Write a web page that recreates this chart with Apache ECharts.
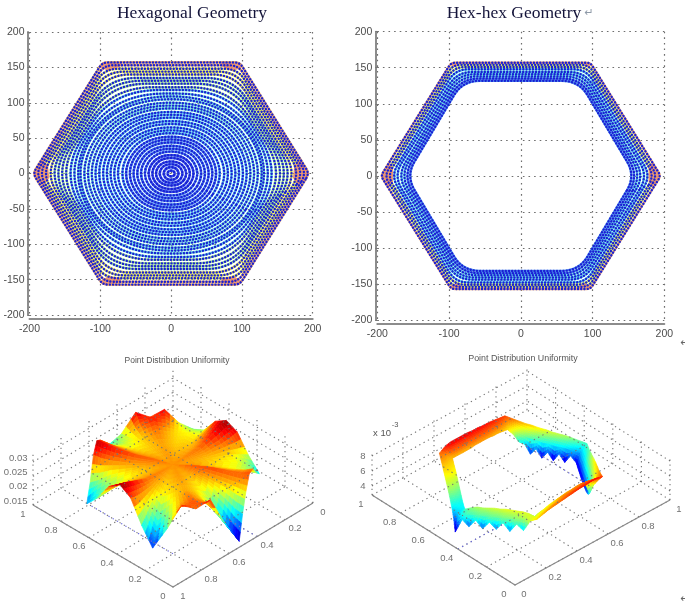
<!DOCTYPE html>
<html><head><meta charset="utf-8">
<style>html,body{margin:0;padding:0;background:#fff}#c{width:685px;height:602px;filter:blur(0.35px)}</style>
<script src="https://cdn.jsdelivr.net/npm/echarts@6/dist/echarts.min.js"></script>
</head><body><div id="c"></div>
<script>
// ---- Scatter panels: each ring of points as a rounded hexagon
const axisTicksX = [-200,-100,0,100,200];
const ringCx = [6,12,18,24,30,36,42,48,54,60,66,72,78,85,91,97,103,109,115,121,127,133,139,145,149,153,157,162,166,170,174,178,183,187,191,195];
const ringTx = [3,6,10,13,16,19,22,26,29,32,35,38,41,45,48,51,54,57,61,64,67,70,73,77,78,80,82,83,85,87,88,90,92,94,95,97];
const ringTy = [4,9,13,17,22,26,31,35,39,44,48,52,57,61,65,70,74,79,83,87,92,96,100,105,109,113,118,122,127,131,135,140,144,148,153,157];
const ringCut = [.5,.5,.5,.5,.5,.5,.5,.5,.5,.5,.5,.5,.5,.5,.5,.5,.5,.5,.5,.5,.5,.5,.5,.5,.5,.45,.4,.35,.3,.26,.22,.18,.14,.1,.07,.04];
const hexCx = [160,164,168,172,177,181,186,190,195];
const hexTx = [81,83,85,87,89,91,93,95,97];
const hexTy = [132,135,138,141,144,148,151,154,157];
const hexCut = [.15,.15,.14,.13,.12,.1,.08,.06,.03];
// Orange patches at the six hexagon corners (x,y pairs)
const patchLeft = [
 [-195,0,-190,8,-183,20,-174,12,-172,-6,-180,-17,-190,-8],[195,0,190,8,183,20,174,12,172,-6,180,-17,190,-8],
 [-97,157,-70,157,-72,151,-88,145,-100,150],[97,157,70,157,72,151,88,145,100,150],
 [-97,-157,-70,-155,-72,-148,-88,-145,-100,-152],[97,-157,70,-155,72,-148,88,-145,100,-152]];
const patchRight = [
 [-194,0,-188,10,-183,19,-178,10,-178,-8,-184,-16,-190,-6],[194,0,188,10,183,19,178,10,178,-8,184,-16,190,-6],
 [-97,157,-88,157,-90,151,-96,152],[97,157,88,157,90,151,96,152],
 [-97,-156,-80,-155,-88,-149,-98,-152],[97,-156,80,-155,88,-149,98,-152]];

// ---- Surface panels
const hexVx = [195,97,-97,-195,-97,97], hexVy = [0,157,157,0,-157,-157];
const surfTicks = [0,0.2,0.4,0.6,0.8,1];
const leftZTicks = [0.015,0.02,0.025,0.03], rightZTicks = [4,6,8];
const leftFractions = [0,0.25,0.5,0.75,0.9,1];
const leftCentreZ = 0.0285;
const leftZ25 = [.0282,.0284,.0288,.0294,.0286,.0282,.0280,.0282,.0284,.0288,.0284,.0280,.0278,.0280,.0282,.0284,.0282,.0280,.0280,.0284,.0290,.0295,.0288,.0284,.0282,.0282,.0284,.0288,.0284,.0282,.0280,.0280,.0282,.0284,.0282,.0280];
const leftZ50 = [.0272,.0278,.0286,.0298,.0284,.0274,.0268,.0274,.0282,.0292,.0282,.0272,.0264,.0270,.0276,.0280,.0276,.0268,.0260,.0272,.0284,.0300,.0284,.0274,.0272,.0276,.0284,.0292,.0282,.0276,.0274,.0274,.0278,.0282,.0278,.0274];
const leftZ75 = [.0255,.0270,.0290,.0308,.0288,.0262,.0245,.0265,.0290,.0312,.0288,.0255,.0225,.0252,.0278,.0292,.0278,.0248,.0210,.0248,.0278,.0296,.0280,.0262,.0262,.0272,.0292,.0312,.0290,.0268,.0265,.0270,.0280,.0292,.0280,.0265];
const leftZ90 = [.0238,.0258,.0295,.0318,.0295,.0245,.0222,.0248,.0295,.0325,.0295,.0238,.0192,.0240,.0288,.0298,.0288,.0232,.0172,.0226,.0272,.0296,.0282,.0252,.0240,.0262,.0302,.0325,.0298,.0258,.0250,.0268,.0296,.0310,.0296,.0258];
const leftZ100 = [.0215,.0250,.0298,.0325,.0305,.0238,.0195,.0238,.0300,.0330,.0305,.0232,.0175,.0235,.0310,.0290,.0315,.0225,.0155,.0220,.0268,.0300,.0288,.0245,.0212,.0255,.0312,.0330,.0305,.0252,.0232,.0262,.0316,.0296,.0320,.0252];
const rightFractions = [0.84,0.89,0.95,1];
const rightZInner = [3.4,4.2,3.2,4.2,3.2,4.2,3.3,4.4,3.6,4.8,5.0,5.9, 6.4,6.5,6.6,6.6,6.7,6.7,6.7,6.7,6.6,6.6,6.6,6.6, 6.6,6.4,6.3,6.2,6.0,5.8,5.6,5.4,5.2,5.0,4.9,4.9, 5.3,5.6,5.8,5.8,5.9,6.0,6.0,6.1,6.1,6.1,6.1,6.0, 5.7,5.9,6.0,6.2,6.3,6.4,6.5,6.6,6.6,6.7,6.7,6.5, 4.8,4.2,3.9,3.7,3.6,3.5,3.5,3.4,3.4,3.4,3.4,3.4];
const rightZMid1 = [4.4,4.5,4.7,4.8,4.8,5.0,5.0,5.2,5.3,5.5,5.8,6.3, 6.7,6.8,6.9,6.9,7.0,7.0,7.0,7.0,7.0,7.0,7.0,7.0, 6.7,6.5,6.4,6.3,6.1,5.9,5.7,5.5,5.3,5.0,4.9,4.8, 5.0,5.4,5.5,5.6,5.6,5.7,5.7,5.8,5.8,5.8,5.9,6.0, 6.0,6.2,6.3,6.4,6.5,6.7,6.8,6.8,6.9,6.9,7.0,6.9, 6.0,5.6,5.3,5.1,5.0,4.9,4.8,4.7,4.6,4.5,4.5,4.4];
const rightZMid2 = [4.9,5.0,5.2,5.4,5.5,5.5,5.6,5.7,5.9,6.0,6.3,6.7, 7.0,7.1,7.2,7.2,7.3,7.3,7.3,7.3,7.3,7.3,7.3,7.3, 6.9,6.7,6.5,6.4,6.2,6.0,5.8,5.6,5.3,5.0,4.8,4.6, 4.7,5.2,5.2,5.4,5.3,5.4,5.4,5.5,5.5,5.6,5.7,6.0, 6.2,6.4,6.5,6.7,6.8,6.9,7.0,7.1,7.1,7.2,7.2,7.2, 6.8,6.6,6.3,6.1,6.0,5.8,5.7,5.6,5.4,5.2,5.0,5.0];
const rightZOuter = [5.2,5.4,5.6,5.8,5.9,6.0,6.2,6.3,6.5,6.6,6.8,7.0, 7.2,7.3,7.4,7.5,7.5,7.6,7.6,7.7,7.7,7.7,7.7,7.5, 7.0,6.8,6.6,6.4,6.2,6.0,5.8,5.6,5.3,5.0,4.6,4.0, 3.0,4.8,4.0,5.0,4.0,5.0,4.2,5.2,4.2,5.3,4.6,6.0, 6.4,6.6,6.8,6.9,7.0,7.1,7.2,7.3,7.4,7.4,7.5,7.5, 7.3,7.0,6.8,6.6,6.5,6.4,6.2,6.0,5.8,5.6,5.4,5.3];
// Blue dotted floor lines seen under the surfaces: [a1,b1,a2,b2]
const blueLeft = [[0.2,0.2,0.8,0.2],[0,0.6,0.2,0.6]];
const blueRight = [[0.4,0,0.4,0.3],[0.4,0.8,0.8,0.8]];

// ---- Scales and projections
const P3 = {L:[-140,82],R:[140,84],H:53,zMin:0.015,zMax:0.0335,cMin:0.015,cMax:0.0335,shrink:0.97,
  ab:(x,y)=>[(x+200)/400,1-(y+200)/400]};
const P4 = {L:[-143,90],R:[155,85],H:42,zMin:2.8,zMax:8.4,cMin:2.9,cMax:8.2,shrink:0.87,
  ab:(x,y)=>[(y+200)/400,(x+200)/400]};
function project(p,a,b,zn){return [a*p.L[0]+b*p.R[0], a*p.L[1]+b*p.R[1]+zn*p.H];}
function jet(t){t=Math.max(0,Math.min(1,t));
  const f=(c)=>Math.round(255*Math.max(0,Math.min(1,1.5-Math.abs(4*t-c))));
  return 'rgb('+f(3)+','+f(2)+','+f(1)+')';}
function meshQuads(p,fractions,rows,perEdge,sub){
  const n=rows[0].length, out=[];
  const pos=(s,f)=>{const k=((s%n)+n)%n,e=Math.floor(k/perEdge),t=(k-e*perEdge)/perEdge,e2=(e+1)%6;
    const x=hexVx[e]+(hexVx[e2]-hexVx[e])*t, y=hexVy[e]+(hexVy[e2]-hexVy[e])*t;
    const ab=p.ab(x*f,y*f);
    return [0.5+p.shrink*(ab[0]-0.5),0.5+p.shrink*(ab[1]-0.5)];};
  for(let r=0;r<rows.length-1;r++)for(let s=0;s<n;s++){
    const s2=(s+1)%n,
      A=pos(s,fractions[r]),B=pos(s+1,fractions[r]),C=pos(s+1,fractions[r+1]),D=pos(s,fractions[r+1]),
      zA=rows[r][s],zB=rows[r][s2],zC=rows[r+1][s2],zD=rows[r+1][s];
    const at=(i,j)=>{const u=i/sub,v=j/sub,w=[(1-u)*(1-v),u*(1-v),u*v,(1-u)*v];
      return [w[0]*A[0]+w[1]*B[0]+w[2]*C[0]+w[3]*D[0],w[0]*A[1]+w[1]*B[1]+w[2]*C[1]+w[3]*D[1],w[0]*zA+w[1]*zB+w[2]*zC+w[3]*zD];};
    for(let i=0;i<sub;i++)for(let j=0;j<sub;j++){
      const q=[at(i,j),at(i+1,j),at(i+1,j+1),at(i,j+1)];
      const depth=q.reduce((t,c)=>t+c[0]+c[1],0)/4, zm=q.reduce((t,c)=>t+c[2],0)/4;
      const pts=q.map(c=>project(p,c[0],c[1],(c[2]-p.zMin)/(p.zMax-p.zMin)));
      out.push({d:depth,v:[pts[0][0],pts[0][1],pts[1][0],pts[1][1],pts[2][0],pts[2][1],pts[3][0],pts[3][1],(zm-p.cMin)/(p.cMax-p.cMin)]});
    }
  }
  return out.sort((x,y)=>y.d-x.d).map(o=>o.v);
}
function wires(p,zt){
  const d=[],seg=(a1,b1,z1,a2,b2,z2)=>{d.push(project(p,a1,b1,z1),project(p,a2,b2,z2),[NaN,NaN]);};
  surfTicks.forEach(t=>{seg(t,0,0,t,1,0);seg(0,t,0,1,t,0);seg(1,t,0,1,t,1);seg(t,1,0,t,1,1);});
  zt.forEach(z=>{const n=(z-p.zMin)/(p.zMax-p.zMin);seg(1,0,n,1,1,n);seg(0,1,n,1,1,n);});
  return d;
}
function ringD(cx,tx,ty,cut,api){
  const c=[[cx,0],[tx,ty],[-tx,ty],[-cx,0],[-tx,-ty],[tx,-ty]].map(q=>api.coord(q));
  let d='';
  c.forEach((P,k)=>{const a=c[(k+5)%6],b=c[(k+1)%6];
    const s=[P[0]+(a[0]-P[0])*cut,P[1]+(a[1]-P[1])*cut],e=[P[0]+(b[0]-P[0])*cut,P[1]+(b[1]-P[1])*cut];
    d+=(k?'L':'M')+s[0].toFixed(2)+' '+s[1].toFixed(2)+'Q'+P[0].toFixed(2)+' '+P[1].toFixed(2)+' '+e[0].toFixed(2)+' '+e[1].toFixed(2);});
  return d+'Z';
}
const dotBlue='#1a20d4';
function ringSeries(Cx,Tx,Ty,Cut,grid,bandColor,dot,patches){
  const base={type:'custom',xAxisIndex:grid,yAxisIndex:grid,silent:true,animation:false,progressive:0,clip:false,data:Cx.map((_,i)=>[i,0])};
  const under=Object.assign({},base,{renderItem:(p,api)=>{const i=api.value(0);
    return {type:'path',shape:{pathData:ringD(Cx[i],Tx[i],Ty[i],Cut[i],api)},style:{fill:null,stroke:bandColor(i),lineWidth:dot.band}};}});
  const dots=Object.assign({},base,{renderItem:(p,api)=>{const i=api.value(0);
    return {type:'path',shape:{pathData:ringD(Cx[i],Tx[i],Ty[i],Cut[i],api)},style:{fill:null,stroke:dotBlue,lineWidth:dot.w,lineDash:[0.1,dot.gap],lineCap:'round'}};}});
  const patch={type:'custom',xAxisIndex:grid,yAxisIndex:grid,silent:true,animation:false,clip:false,
    data:patches.map((_,i)=>[i,0]),
    renderItem:(params,api)=>{const a=patches[api.value(0)],pts=[];
      for(let k=0;k<a.length;k+=2)pts.push(api.coord([a[k],a[k+1]]));
      return {type:'polygon',shape:{points:pts},style:{fill:'rgba(232,140,104,0.9)'}};}};
  return [under,patch,dots];
}
function surface(grid,quads){
  return {type:'custom',xAxisIndex:grid,yAxisIndex:grid,silent:true,animation:false,progressive:0,clip:false,
    data:quads,
    renderItem:(params,api)=>{const pts=[0,1,2,3].map(i=>api.coord([api.value(2*i),api.value(2*i+1)]));
      const c=jet(api.value(8));
      return {type:'polygon',shape:{points:pts},style:{fill:c,stroke:c,lineWidth:0.7}};}};
}
const txt='#4c4c4c', sans='"Liberation Sans",Arial,sans-serif';
function labelSeries(grid,items,opt,dx,dy){
  return {type:'scatter',xAxisIndex:grid,yAxisIndex:grid,silent:true,animation:false,symbolSize:1,itemStyle:{color:'rgba(0,0,0,0)'},clip:false,
    data:items.map(o=>({name:String(o[1]),value:o[0]})),
    labelLayout:{hideOverlap:false,dx,dy},
    label:Object.assign({show:true,formatter:'{b}',color:txt,fontSize:9.5,fontFamily:sans},opt)};
}
function wireSeries(grid,p,zt){
  return {type:'line',xAxisIndex:grid,yAxisIndex:grid,data:wires(p,zt),showSymbol:false,silent:true,animation:false,connectNulls:false,clip:false,
    lineStyle:{color:'#747474',width:1.1,type:[1.3,3.6]}};
}
function blueSeries(grid,p,segs){
  const d=[];segs.forEach(s=>d.push(project(p,s[0],s[1],0),project(p,s[2],s[3],0),[NaN,NaN]));
  return {type:'line',xAxisIndex:grid,yAxisIndex:grid,data:d,showSymbol:false,silent:true,animation:false,connectNulls:false,clip:false,
    lineStyle:{color:'#6a6ae0',width:1.1,type:[1.3,3.6]}};
}
function frontAxes(grid,p){
  return {type:'line',xAxisIndex:grid,yAxisIndex:grid,data:[project(p,1,0,0),project(p,0,0,0),project(p,0,1,0)],showSymbol:false,silent:true,animation:false,clip:false,
    lineStyle:{color:'#8a8a8a',width:1.2}};
}
function plotAxes(grid){
  return {
    x:{type:'value',gridIndex:grid,min:-200,max:200,interval:100,offset:4,
      axisLine:{show:true,onZero:false,lineStyle:{color:'#8c8c8c',width:2}},axisTick:{show:false},
      axisLabel:{color:txt,fontSize:10.5,fontFamily:sans,margin:5,showMinLabel:true,showMaxLabel:true,hideOverlap:false,customValues:axisTicksX},
      splitLine:{show:true,lineStyle:{color:'#6e6e6e',width:1.2,type:[1.6,4]}}},
    y:{type:'value',gridIndex:grid,min:-200,max:200,interval:50,offset:2,
      axisLine:{show:true,onZero:false,lineStyle:{color:'#8c8c8c',width:2}},axisTick:{show:true,inside:true,length:3,lineStyle:{color:'#777'}},
      axisLabel:{color:txt,fontSize:10.5,fontFamily:sans,margin:3,showMinLabel:true,showMaxLabel:true,hideOverlap:false},
      splitLine:{show:true,lineStyle:{color:'#6e6e6e',width:1.2,type:[1.6,4]}}}
  };
}
const hiddenAxis=(grid,min,max)=>({type:'value',gridIndex:grid,min,max,show:false,splitLine:{show:false}});
const a0=plotAxes(0),a1=plotAxes(1);

const bandLeft=i=>i<6?'#3a5ae8':i<12?'#4a88f0':i<20?'#5cc8f0':i<27?'#70e0e0':i<31?'#a8ec90':i<34?'#ecee50':'#f0b070';
const bandRight=i=>i<2?'#4f90ee':i<6?'#62d8ea':i<8?'#d8ec60':'#f0a870';

const tickA3=surfTicks.map(t=>[project(P3,t,0,0),t]);
const tickB3=surfTicks.map(t=>[project(P3,0,t,0),+(1-t).toFixed(1)]);
const tickZ3=leftZTicks.map(z=>[project(P3,1,0,(z-P3.zMin)/(P3.zMax-P3.zMin)),z]);
const tickA4=surfTicks.map(t=>[project(P4,t,0,0),t]);
const tickB4=surfTicks.map(t=>[project(P4,0,t,0),t]);
const tickZ4=rightZTicks.map(z=>[project(P4,1,0,(z-P4.zMin)/(P4.zMax-P4.zMin)),z]);

const quads3=meshQuads(P3,leftFractions,[new Array(36).fill(leftCentreZ),leftZ25,leftZ50,leftZ75,leftZ90,leftZ100],6,3);
const quads4=meshQuads(P4,rightFractions,[rightZInner,rightZMid1,rightZMid2,rightZOuter],12,3);

const title=(text,left,top,size,color,family,align)=>({text,left,top,textAlign:align||'center',
  textStyle:{fontSize:size,color,fontFamily:family,fontWeight:'normal'}});
const serif='"Liberation Serif","Times New Roman",serif';

const option={
  backgroundColor:'#fff',animation:false,
  title:[
    title('Hexagonal Geometry',187,-1,17.5,'#14143a',serif),
    title('Hex-hex Geometry',509,-1,17.5,'#14143a',serif),
    title('↵',584,3,11,'#8f9aa8','"DejaVu Sans"'),
    title('↵',680,333,11,'#666','"DejaVu Sans"'),
    title('↵',680,589,11,'#666','"DejaVu Sans"'),
    title('Point Distribution Uniformity',172,351,8.5,'#555',sans),
    title('Point Distribution Uniformity',518,349,8.9,'#555',sans),
    title('x 10',377,423,9.5,'#555',sans),
    title('-3',390,416,7.5,'#555',sans)
  ],
  grid:[
    {left:29.5,right:372.3,top:32,bottom:287},
    {left:377.3,right:20.7,top:31.7,bottom:282},
    {left:33,width:280,top:368,height:219},
    {left:372,width:298,top:368,height:217}
  ],
  xAxis:[a0.x,a1.x,hiddenAxis(2,-140,140),hiddenAxis(3,-143,155)],
  yAxis:[a0.y,a1.y,hiddenAxis(2,0,219),hiddenAxis(3,0,217)],
  series:[].concat(
    ringSeries(ringCx,ringTx,ringTy,ringCut,0,bandLeft,{w:2.4,gap:3.1,band:2.6},patchLeft),
    ringSeries(hexCx,hexTx,hexTy,hexCut,1,bandRight,{w:2.4,gap:3.1,band:2.4},patchRight),
    [wireSeries(2,P3,leftZTicks),blueSeries(2,P3,blueLeft),frontAxes(2,P3),surface(2,quads3),
     labelSeries(2,tickA3,{position:'inside'},-10,9),
     labelSeries(2,tickB3,{position:'inside'},10,9),
     labelSeries(2,tickZ3,{position:'left',distance:5},0,-4),
     wireSeries(3,P4,rightZTicks),blueSeries(3,P4,blueRight),frontAxes(3,P4),surface(3,quads4),
     labelSeries(3,tickA4,{position:'inside'},-11,9),
     labelSeries(3,tickB4,{position:'inside'},9,9),
     labelSeries(3,tickZ4,{position:'left',distance:6},0,0)]
  )
};
echarts.init(document.getElementById('c')).setOption(option);
</script></body></html>
